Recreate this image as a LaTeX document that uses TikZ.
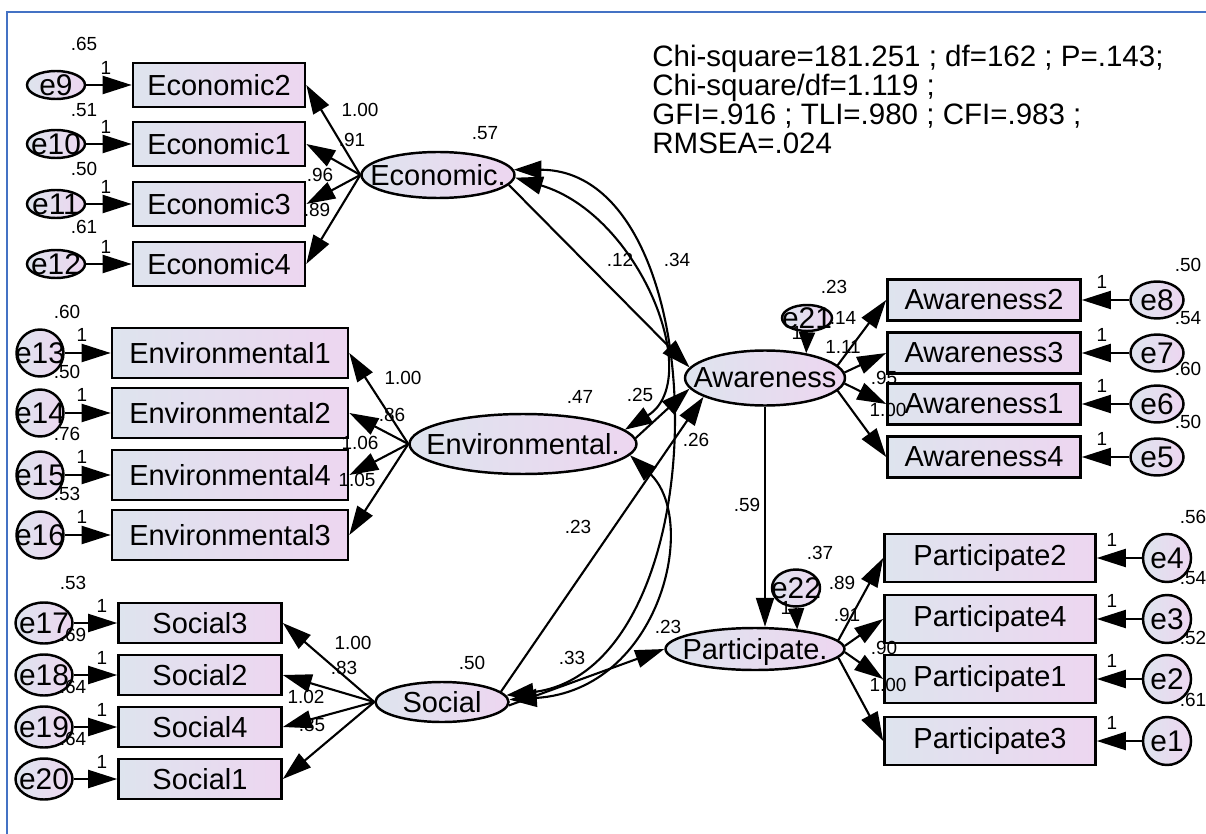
\documentclass[tikz,border=0pt]{standalone}
\usepackage{fontspec}
\setmainfont{Liberation Sans}
\usetikzlibrary{shapes.geometric, arrows.meta}
\definecolor{boxL}{RGB}{222,228,238}
\definecolor{boxR}{RGB}{237,214,240}
\definecolor{frameblue}{RGB}{68,114,196}
% text that does not change the size of the shape
\newcommand{\etxt}[1]{\smash{\makebox[0pt]{\raisebox{-0.5\height}{#1}}}}

\tikzset{
  obs/.style={draw, line width=1.5pt, left color=boxL, right color=boxR,
    inner sep=0pt, font=\fontsize{16.5}{18}\selectfont},
  lat/.style={ellipse, draw, line width=1.4pt, left color=boxL, right color=boxR,
    inner sep=0pt, font=\fontsize{16.5}{18}\selectfont},
  err/.style={lat, font=\fontsize{17}{18}\selectfont},
  num/.style={inner sep=0pt, font=\fontsize{10.8}{12}\selectfont},
  reg/.style={-{Triangle[length=0.58cm,width=0.36cm]}, line width=1.2pt},
  rsmall/.style={-{Triangle[length=0.42cm,width=0.32cm]}, line width=1.2pt},
  cov/.style={{Triangle[length=0.55cm,width=0.36cm]}-{Triangle[length=0.55cm,width=0.36cm]}, line width=1.2pt}
}

\begin{document}
\begin{tikzpicture}[x=0.02cm, y=-0.02cm]
\useasboundingbox (0,0) rectangle (1206,834);
\draw[frameblue, line width=1.2pt] (7,834) -- (7,12) -- (1206,12);

% latent variables
\node[lat, minimum width=3.06cm, minimum height=0.92cm] (econ) at (438,175) {\etxt{Economic.}};
\node[lat, minimum width=4.54cm, minimum height=1.2cm] (envi) at (523,444) {\etxt{Environmental.}};
\node[lat, minimum width=2.66cm, minimum height=0.8cm] (soc) at (442,702) {\etxt{Social}};
\node[lat, minimum width=3.2cm, minimum height=1.1cm] (aware) at (765,378) {\etxt{Awareness}};
\node[lat, minimum width=3.58cm, minimum height=0.84cm] (part) at (755,649) {\etxt{Participate.}};
\node[err, minimum width=1cm, minimum height=0.52cm] (e21) at (807,318) {\etxt{e21}};
\node[err, minimum width=0.96cm, minimum height=0.74cm] (e22) at (796,588) {\etxt{e22}};

% measurement blocks
\foreach \i/\m/\y/\v/\vy in {9/2/85/.65/44, 10/1/144/.51/110, 11/3/204/.50/169, 12/4/264/.61/227}{
  \node[err, minimum width=1.16cm, minimum height=0.56cm] (e\i) at (56,\y) {\etxt{e\i}};
  \node[obs, minimum width=3.44cm, minimum height=0.88cm] (eco\m) at (219,\y) {Economic\m};
  \draw[reg] (e\i) -- (eco\m);
  \draw[reg] (econ.west) -- (eco\m.east);
  \node[num] (ve\i) at (84,\vy) {\v};
  \node[num] (one\i) at (106,\y-17) {1};
}

\foreach \i/\m/\y/\v in {13/1/353/.60, 14/2/413/.50, 15/4/475/.76, 16/3/535/.53}{
  \node[err, minimum width=0.94cm, minimum height=0.94cm] (e\i) at (40,\y) {\etxt{e\i}};
  \node[obs, minimum width=4.72cm, minimum height=1cm] (env\m) at (230,\y) {Environmental\m};
  \draw[reg] (e\i) -- (env\m);
  \draw[reg] (envi.west) -- (env\m.east);
  \node[num] (ve\i) at (67,\y-41) {\v};
  \node[num] (one\i) at (82,\y-18) {1};
}

\foreach \i/\m/\y/\v in {17/3/623/.53, 18/2/675/.69, 19/4/727/.64, 20/1/779/.64}{
  \node[err, minimum width=1.14cm, minimum height=0.82cm] (e\i) at (44,\y) {\etxt{e\i}};
  \node[obs, minimum width=3.26cm, minimum height=0.8cm] (soc\m) at (200,\y) {Social\m};
  \draw[reg] (e\i) -- (soc\m);
  \draw[reg] (soc.west) -- (soc\m.east);
  \node[num] (ve\i) at (73,\y-40) {\v};
  \node[num] (one\i) at (102,\y-17) {1};
}

\foreach \i/\m/\y/\v/\a in {8/2/300/.50/10, 7/3/353/.54/4, 6/1/404/.60/-4, 5/4/457/.50/-10}{
  \node[err, minimum width=1.06cm, minimum height=0.74cm] (e\i) at (1157,\y) {\etxt{e\i}};
  \node[obs, minimum width=3.86cm, minimum height=0.82cm] (aw\m) at (984,\y) {Awareness\m};
  \draw[reg] (e\i) -- (aw\m);
  \draw[reg] (aware.\a) -- (aw\m.west);
  \node[num] (ve\i) at (1188,\y-35) {\v};
  \node[num] (one\i) at (1102,\y-18) {1};
}

\foreach \i/\m/\y/\v/\a in {4/2/558/.56/6, 3/4/619/.54/2, 2/1/679/.52/-2, 1/3/741/.61/-6}{
  \node[err, minimum width=0.96cm, minimum height=0.96cm] (e\i) at (1167,\y) {\etxt{e\i}};
  \node[obs, minimum width=4.22cm, minimum height=0.96cm] (par\m) at (990,\y) {Participate\m};
  \draw[reg] (e\i) -- (par\m);
  \draw[reg] (part.\a) -- (par\m.west);
  \node[num] (ve\i) at (1193,\y-41) {\v};
  \node[num] (one\i) at (1112,\y-18) {1};
}

% structural paths
\draw[reg] (econ.-8) -- (aware.172);
\draw[reg] (envi.3) -- (aware.188);
\draw[reg] (soc.10) -- (aware.197);
\draw[reg] (soc.-3) -- (part.west);
\draw[reg] (aware.south) -- (aware.south |- part.north);
\draw[rsmall] (e21.south) -- (aware.31);
\draw[rsmall] (e22.south) -- (part.25);

% covariances
\draw[cov] (econ.-2) .. controls (640,215) and (705,380) .. (envi.8);
\draw[cov] (econ.4) .. controls (720,170) and (722,670) .. (soc.6);
\draw[cov] (envi.-6) .. controls (700,520) and (660,690) .. (soc.2);

% estimates
\foreach \x/\y/\v [count=\k] in {360/110/1.00, 352/140/.91, 320/175/.96, 317/210/.89,
    403/378/1.00, 392/415/.86, 360/443/1.06, 357/480/1.05,
    353/643/1.00, 344/668/.83, 306/697/1.02, 312/725/.85,
    843/318/.14, 843/347/1.11, 884/378/.95, 888/410/1.00,
    842/583/.89, 847/615/.91, 884/648/.90, 888/685/1.00,
    485/133/.57, 580/397/.47, 472/663/.50, 834/287/.23, 668/627/.23,
    820/553/.37, 747/505/.59, 620/260/.12, 677/260/.34, 640/395/.25,
    696/440/.26, 578/527/.23, 572/658/.33, 797/333/1, 786/608/1}
  \node[num] (est\k) at (\x,\y) {\v};

\node[anchor=north west, align=left, inner sep=0pt, font=\fontsize{16.8}{16.5}\selectfont]
  (gof) at (652,45) {Chi-square=181.251 ; df=162 ; P=.143;\\
  Chi-square/df=1.119 ;\\ GFI=.916 ; TLI=.980 ; CFI=.983 ;\\ RMSEA=.024};
\end{tikzpicture}
\end{document}
